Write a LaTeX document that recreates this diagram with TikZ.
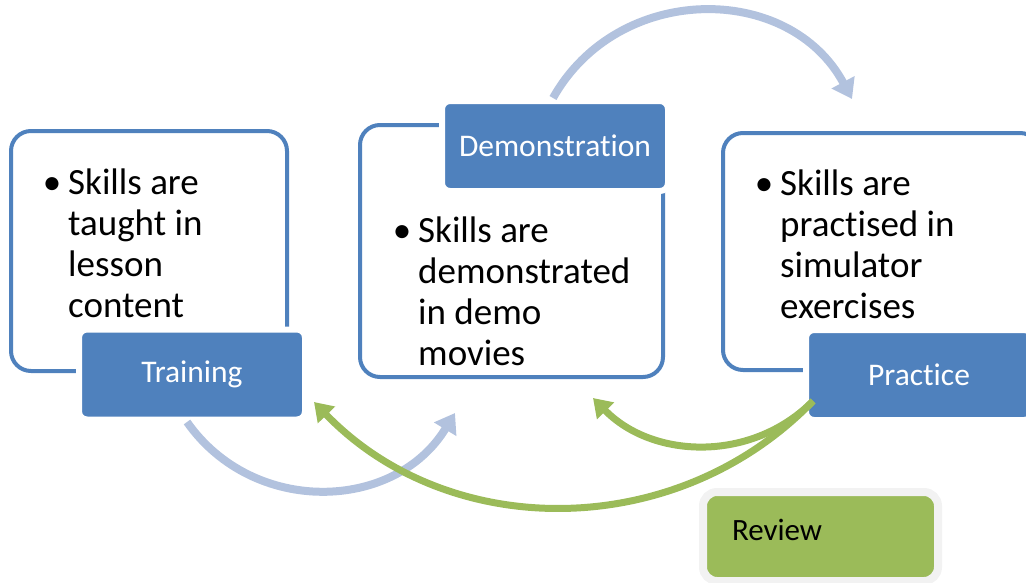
\documentclass[tikz,border=0pt]{standalone}
\usepackage{fontspec}
\setmainfont{Carlito}[Ligatures=NoCommon]
\usetikzlibrary{arrows.meta}
\definecolor{myblue}{HTML}{4F81BD}
\definecolor{lightblue}{HTML}{B2C2DE}
\definecolor{mygreen}{HTML}{9BBB59}
\definecolor{mygrey}{HTML}{F2F2F2}
\newcommand{\bulletline}{\leavevmode\llap{•\hspace{7pt}}}
\tikzset{
  container/.style={draw=myblue, line width=4pt, rounded corners=20pt, fill=white, inner sep=0},
  labelbox/.style={fill=myblue, draw=white, line width=6pt, rounded corners=8pt,
     minimum width=226pt, minimum height=90pt, inner sep=0, text=white,
     font=\fontsize{31.5}{36}\selectfont},
  bodytext/.style={anchor=base west, inner sep=0, font=\fontsize{37}{41}\selectfont},
  reviewbox/.style={fill=mygreen, draw=mygrey, line width=8pt, rounded corners=14pt,
     minimum width=235pt, minimum height=89pt, inner xsep=29pt, inner ysep=0pt,
     text width=177pt, align=left, text height=27pt, text depth=20pt,
     font=\fontsize{31}{36}\selectfont},
  blueflow/.style={draw=lightblue, line width=8pt, -{Triangle[length=19pt,width=25pt]}},
  greenflow/.style={draw=mygreen, line width=7pt, -{Triangle[length=18pt,width=23pt]}}
}
\begin{document}
\begin{tikzpicture}[x=1pt,y=1pt]
\useasboundingbox (0,0) rectangle (1026,-582);
\clip (0,0) rectangle (1026,-582);

% containers
\node[container, minimum width=276pt, minimum height=240pt] (tbox) at (149,-251) {};
\node[container, minimum width=303pt, minimum height=252pt] (dbox) at (511.5,-251) {};
\node[container, minimum width=317pt, minimum height=237pt] (pbox) at (881.5,-251.5) {};

% body texts
\node[bodytext] (ttext) at (68,-194) {\parbox[t]{220pt}{\raggedright\bulletline Skills are\\taught in\\lesson\\content}};
\node[bodytext] (dtext) at (418,-242) {\parbox[t]{240pt}{\raggedright\bulletline Skills are\\demonstrated\\in demo\\movies}};
\node[bodytext] (ptext) at (780,-195) {\parbox[t]{240pt}{\raggedright\bulletline Skills are\\practised in\\simulator\\exercises}};

% labels
\node[labelbox] (tlabel) at (192,-374.5) {Training};
\node[labelbox] (dlabel) at (555,-146) {Demonstration};
\node[labelbox] (plabel) at (919,-375) {Practice};

% review
\node[reviewbox] (review) at (820.5,-536.5) {Review};

% arrow end points
\coordinate (t1) at (187,-422);
\coordinate (t2) at (455,-413);
\coordinate (d1) at (553,-98);
\coordinate (d2) at (852,-99);
\coordinate (p1) at (813,-401);
\coordinate (p2) at (593,-398);
\coordinate (p3) at (314,-402);

% blue flow arrows
\draw[blueflow] (t1) to[out=-54.9, in=-121.3, looseness=1.10] (t2);
\draw[blueflow] (d1) to[out=60.7, in=118.2, looseness=1.135] (d2);

% green review arrows
\draw[greenflow] (p1) to[out=-134.7, in=-45.6, looseness=1.0] (p2);
\draw[greenflow] (p1) to[out=-134, in=-46, looseness=1.0] (p3);
\end{tikzpicture}
\end{document}
